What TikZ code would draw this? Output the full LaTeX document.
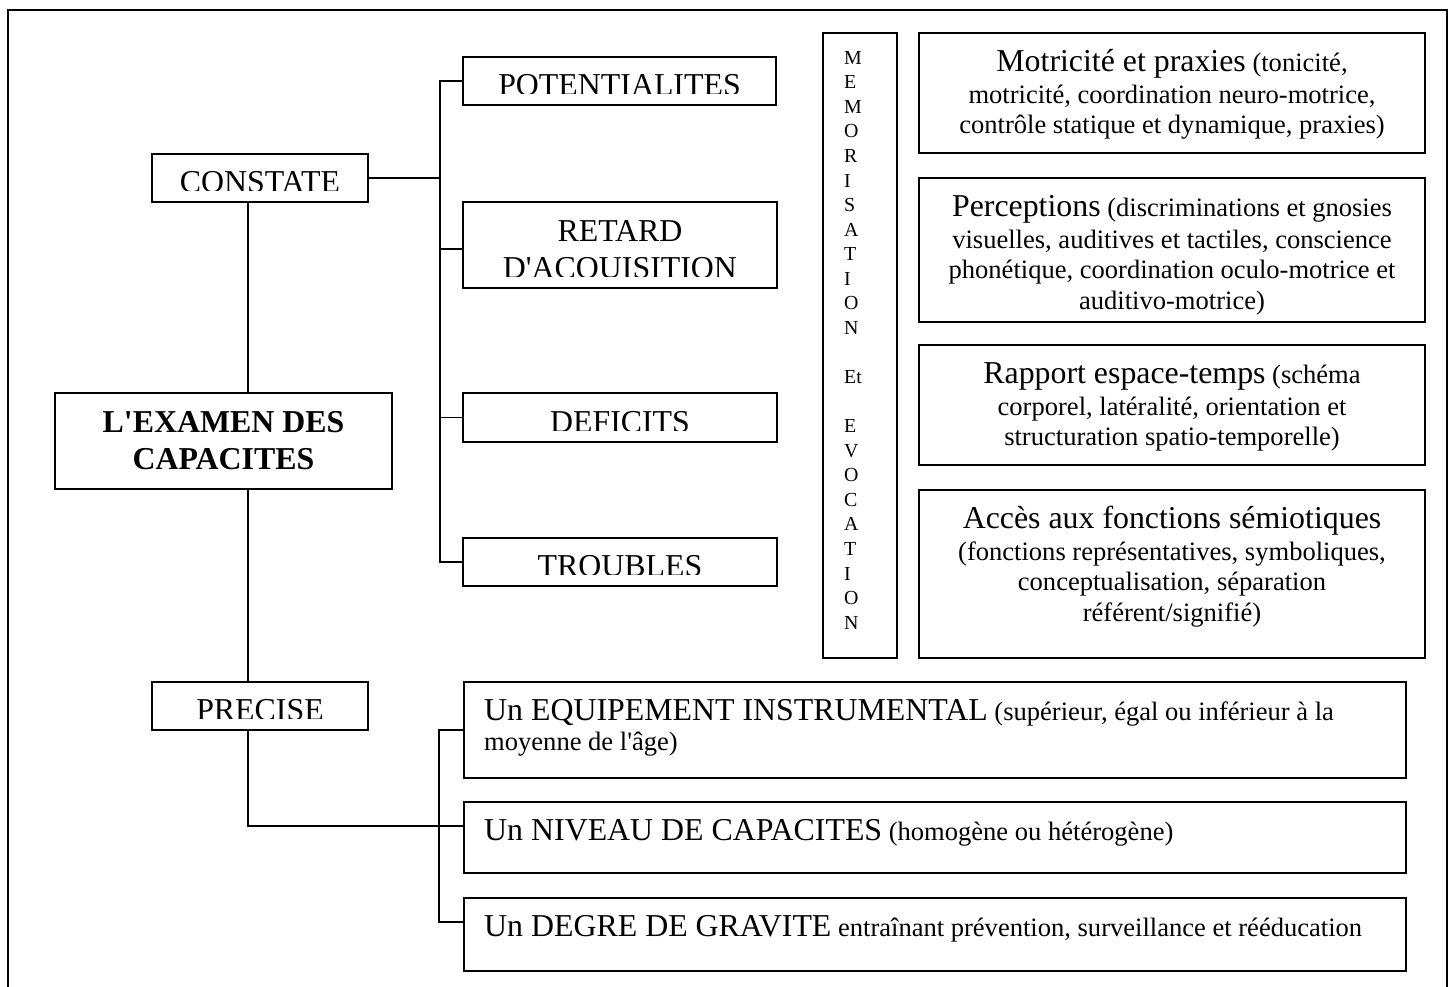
\documentclass[tikz,border=0pt]{standalone}
\usepackage{fontspec}
\setmainfont{Liberation Serif}[Ligatures=TeXOff]

\newcommand{\bigfont}{\fontsize{14.4}{16.8}\selectfont}
\newcommand{\smallfont}{\fontsize{12}{13.8}\selectfont}
\newcommand{\tstrut}{\rule{0pt}{12pt}}

\begin{document}
\begin{tikzpicture}[x=0.452pt, y=-0.452pt,
        box/.style={draw, rectangle, line width=1.1pt, inner sep=0pt},
        sz/.style 2 args={minimum width=#1*0.452pt, minimum height=#2*0.452pt},
        link/.style={line width=0.9pt},
        rtext/.style={font=\smallfont, align=center, inner sep=0pt, anchor=north},
        ltext/.style={font=\smallfont, align=left, inner sep=0pt, anchor=north west},
        cut/.style={path picture={
            \clip ([yshift=5pt]path picture bounding box.south west) rectangle (path picture bounding box.north east);
            \node[draw=none, inner sep=0pt, align=center, font=\bigfont, anchor=base] at ([yshift=4.1pt]path picture bounding box.south) {#1};}}]
        \useasboundingbox (0,0) rectangle (1456,987);
        \draw[link] (8,987) -- (8,10) -- (1447,10) -- (1447,987);

        % left column
        \node[box, sz={216}{48}, cut={CONSTATE}] (constate) at (260,178) {};
        \node[box, sz={337}{96}, font=\bigfont\bfseries, align=center] (examen) at (223.5,441) {L'EXAMEN DES\\CAPACITES};
        \node[box, sz={216}{48}, cut={PRECISE}] (precise) at (260,706) {};

        % second column
        \node[box, sz={313}{48}, cut={POTENTIALITES}] (potent) at (619.5,81) {};
        \node[box, sz={314}{86}, cut={RETARD\\D'ACQUISITION}] (retard) at (620,245) {};
        \node[box, sz={314}{49}, cut={DEFICITS}] (deficits) at (620,417.5) {};
        \node[box, sz={314}{48}, cut={TROUBLES}] (troubles) at (620,562) {};

        % memorisation column
        \node[box, sz={74}{625}] (memo) at (860,345.5) {};
        \node[font=\fontsize{9}{11.1}\selectfont, align=left, inner sep=0pt, anchor=north west] (memo-t)
            at ([xshift=9.9pt, yshift=-5.5pt]memo.north west)
            {\rule{0pt}{9pt}M\\E\\M\\O\\R\\I\\S\\A\\T\\I\\O\\N\\[11.1pt]Et\\[11.1pt]E\\V\\O\\C\\A\\T\\I\\O\\N};

        % right column
        \node[box, sz={506}{120}] (motri) at (1172,93) {};
        \node[rtext] (motri-t) at ([yshift=-5.6pt]motri.north)
            {\tstrut{\bigfont Motricité et praxies} (tonicité,\\[0.6pt]motricité, coordination neuro-motrice,\\contrôle statique et dynamique, praxies)};
        \node[box, sz={506}{144}] (percep) at (1172,250) {};
        \node[rtext] (percep-t) at ([yshift=-5.6pt]percep.north)
            {\tstrut{\bigfont Perceptions} (discriminations et gnosies\\[0.6pt]visuelles, auditives et tactiles, conscience\\phonétique, coordination oculo-motrice et\\auditivo-motrice)};
        \node[box, sz={506}{120}] (rapport) at (1172,405) {};
        \node[rtext] (rapport-t) at ([yshift=-5.6pt]rapport.north)
            {\tstrut{\bigfont Rapport espace-temps} (schéma\\[0.6pt]corporel, latéralité, orientation et\\structuration spatio-temporelle)};
        \node[box, sz={506}{168}] (acces) at (1172,574) {};
        \node[rtext] (acces-t) at ([yshift=-5.6pt]acces.north)
            {\tstrut{\bigfont Accès aux fonctions sémiotiques}\\[0.6pt](fonctions représentatives, symboliques,\\conceptualisation, séparation\\référent/signifié)};

        % bottom boxes
        \node[box, sz={942}{96}] (equip) at (935,730) {};
        \node[ltext] (equip-t) at ([xshift=9.5pt, yshift=-5.6pt]equip.north west)
            {\tstrut{\bigfont Un EQUIPEMENT INSTRUMENTAL} (supérieur, égal ou inférieur à la\\moyenne de l'âge)};
        \node[box, sz={942}{71}] (niveau) at (935,837.5) {};
        \node[ltext] (niveau-t) at ([xshift=9.5pt, yshift=-5.6pt]niveau.north west)
            {\tstrut{\bigfont Un NIVEAU DE CAPACITES} (homogène ou hétérogène)};
        \node[box, sz={942}{73}] (degre) at (935,934.5) {};
        \node[ltext] (degre-t) at ([xshift=9.5pt, yshift=-5.6pt]degre.north west)
            {\tstrut{\bigfont Un DEGRE DE GRAVITE} entraînant prévention, surveillance et rééducation};

        % connectors
        \coordinate (spine) at (248,0);
        \coordinate (bus) at (440,0);
        \draw[link] (constate.south -| spine) -- (examen.north -| spine);
        \draw[link] (examen.south -| spine) -- (precise.north -| spine);
        \draw[link] (constate.east) -- (constate.east -| bus);
        \draw[link] (potent.west) -- (potent.west -| bus) -- (troubles.west -| bus) -- (troubles.west);
        \draw[link] ([yshift=-1.8pt]retard.west) -- ++(-23,0);
        \draw[link] (deficits.west) -- ++(-23,0);
        \draw[link] (precise.south -| spine) |- ([yshift=5.2pt]niveau.west);
        \draw[link] (equip.west) -- ++(-24,0) |- ([yshift=5.6pt]degre.west);
\end{tikzpicture}
\end{document}
